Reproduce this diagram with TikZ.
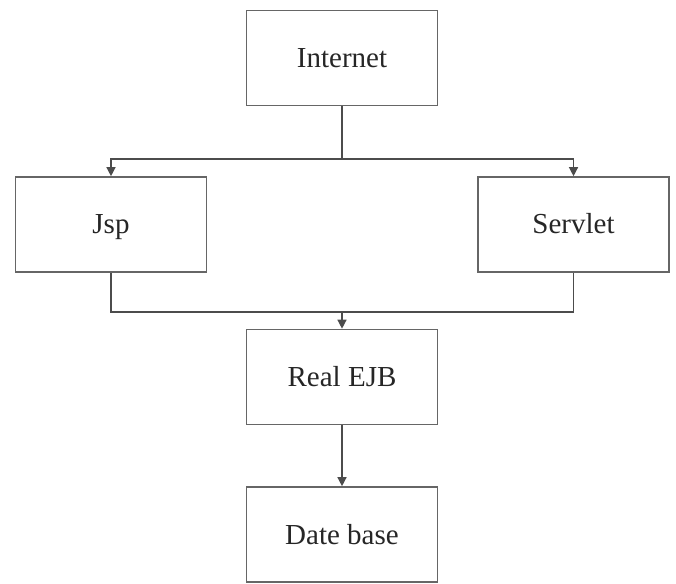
\documentclass[tikz,border=0pt]{standalone}
\usepackage{fontspec}
\setmainfont{Liberation Serif}
\usetikzlibrary{arrows.meta}
\begin{document}
\begin{tikzpicture}[x=1pt,y=1pt,
  box/.style={draw=black!60, line width=1.6pt, minimum width=191pt, minimum height=95pt, inner sep=0pt, text height=19pt, text depth=0pt, font=\fontsize{29}{34}\selectfont, text=black!85},
  conn/.style={draw=black!70, line width=1.3pt},
  arr/.style={conn, -{Triangle[length=9pt,width=9pt]}}]
\useasboundingbox (0,0) rectangle (676,583);
\node[box] (inet) at (342,525) {Internet};
\node[box] (jsp) at (111,358.5) {Jsp};
\node[box] (serv) at (573.5,358.5) {Servlet};
\node[box] (ejb) at (342,206) {Real EJB};
\node[box] (db) at (342,48.5) {Date base};
\coordinate (t) at (342,424);
\coordinate (b) at (342,271);
\draw[conn] (inet.south) -- (t);
\draw[arr] (t) -| (jsp.north);
\draw[arr] (t) -| (serv.north);
\draw[conn] (jsp.south) |- (b) -| (serv.south);
\draw[arr] (b) -- (ejb.north);
\draw[arr] (ejb.south) -- (db.north);
\end{tikzpicture}
\end{document}
